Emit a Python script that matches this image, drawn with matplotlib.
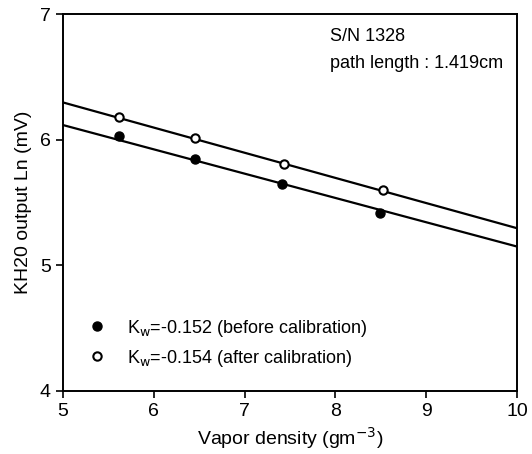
import numpy as np
import matplotlib.pyplot as plt

plt.rcParams['font.family'] = ['Liberation Sans', 'DejaVu Sans']

# data
vapor_before = [5.62, 6.46, 7.41, 8.49]
ln_before = [6.03, 5.85, 5.65, 5.42]
vapor_after = [5.62, 6.46, 7.44, 8.52]
ln_after = [6.18, 6.01, 5.81, 5.60]

# fitted lines (slope, intercept) as drawn
fit_before = (-0.1936, 7.085)
fit_after = (-0.2004, 7.299)

label_before = r'K$_\mathrm{w}$=-0.152 (before calibration)'
label_after = r'K$_\mathrm{w}$=-0.154 (after calibration)'

fig = plt.figure(figsize=(5.32, 4.54), dpi=100)
ax = fig.add_axes([0.118, 0.139, 0.854, 0.830])

xl = np.array([5, 10])
ax.plot(xl, fit_before[0] * xl + fit_before[1], color='black', lw=1.6)
ax.plot(xl, fit_after[0] * xl + fit_after[1], color='black', lw=1.6)

ax.plot(vapor_before, ln_before, 'o', color='black', ms=6.5, label=label_before)
ax.plot(vapor_after, ln_after, 'o', mfc='white', mec='black', mew=1.5, ms=6,
        label=label_after)

ax.set_xlim(5, 10)
ax.set_ylim(4, 7)
ax.set_xticks([5, 6, 7, 8, 9, 10])
ax.set_yticks([4, 5, 6, 7])
ax.tick_params(direction='out', length=5, width=1.2, labelsize=14)
for s in ax.spines.values():
    s.set_linewidth(1.4)

ax.set_xlabel(r'Vapor density (gm$^{-3}$)', fontsize=14, labelpad=4)
ax.set_ylabel('KH20 output Ln (mV)', fontsize=14, labelpad=6)

ax.text(7.94, 6.89, 'S/N 1328\npath length : 1.419cm', fontsize=13,
        va='top', ha='left', linespacing=1.75)

ax.legend(loc='center left', bbox_to_anchor=(0.039, 0.127), frameon=False,
          fontsize=13, handlelength=1.0, handletextpad=1.17, labelspacing=0.5,
          borderaxespad=0.0)

fig.savefig('out.png', dpi=100)
